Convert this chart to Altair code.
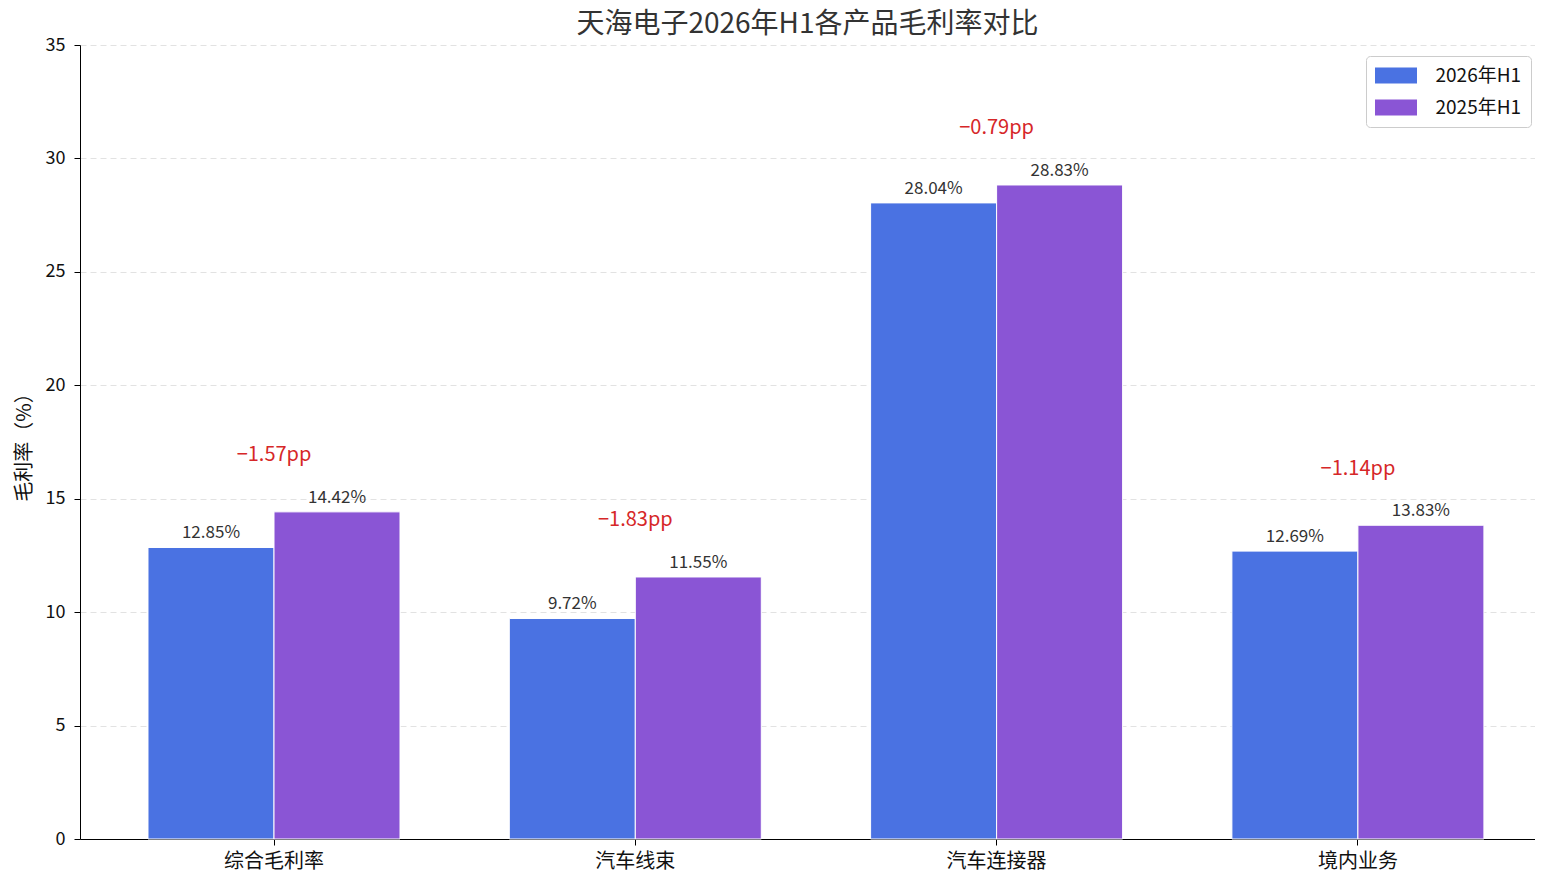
import altair as alt
import pandas as pd

categories = ["综合毛利率", "汽车线束", "汽车连接器", "境内业务"]
series = ["2026年H1", "2025年H1"]
v2026 = [12.85, 9.72, 28.04, 12.69]
v2025 = [14.42, 11.55, 28.83, 13.83]
colors = ["#4A72E2", "#8A55D5"]

FONT = "Noto Sans CJK SC"

rows = []
for c, a, b in zip(categories, v2026, v2025):
    rows.append({"cat": c, "series": series[0], "value": a})
    rows.append({"cat": c, "series": series[1], "value": b})
df = pd.DataFrame(rows)

diff_df = pd.DataFrame({"cat": categories, "a": v2026, "b": v2025})

xscale = alt.Scale(domain=categories, paddingInner=0.3025, paddingOuter=0.1648, align=0.571)
xenc = alt.X("cat:N", scale=xscale, sort=categories, title=None,
             axis=alt.Axis(labelAngle=0, labelFontSize=20, labelColor="#111",
                           tickSize=6, tickColor="#000", domainColor="#000",
                           labelPadding=6, grid=False))
yscale = alt.Scale(domain=[0, 35], nice=False)
yenc = alt.Y("value:Q", scale=yscale,
             axis=alt.Axis(title="毛利率（%）", values=[0, 5, 10, 15, 20, 25, 30, 35],
                           labelFontSize=18, labelColor="#111", titleFontSize=20,
                           titleFontWeight="normal", titleColor="#111", titlePadding=11,
                           tickSize=6, tickColor="#000", domainColor="#000", labelPadding=9,
                           grid=True, gridColor="#e2e2e2", gridDash=[6, 4], gridWidth=1))
xoff = alt.XOffset("series:N", sort=series,
                   scale=alt.Scale(domain=series, paddingInner=0, paddingOuter=0))

symbol_path = "M-2,-0.76H2V0.76H-2Z"

bars = alt.Chart(df).mark_bar(stroke="white", strokeWidth=1).encode(
    x=xenc,
    xOffset=xoff,
    y=yenc,
    color=alt.Color("series:N", sort=series,
                    scale=alt.Scale(domain=series, range=colors),
                    legend=alt.Legend(title=None, orient="none", legendX=1286, legendY=11,
                                      labelFontSize=19, labelColor="#111",
                                      symbolType=symbol_path, symbolSize=441,
                                      symbolOffset=10.5,
                                      symbolStrokeWidth=0, labelOffset=29,
                                      rowPadding=11, padding=9,
                                      strokeColor="#cccccc", fillColor="white",
                                      cornerRadius=4)),
)

labels = alt.Chart(df).mark_text(baseline="bottom", dy=-5, fontSize=17, color="#333",
                                  font=FONT).encode(
    x=alt.X("cat:N", scale=xscale, sort=categories),
    xOffset=xoff,
    y=alt.Y("value:Q", scale=yscale),
    text=alt.Text("label:N"),
).transform_calculate(label="format(datum.value, '.2f') + '%'")

ann = alt.Chart(diff_df).transform_calculate(
    top="max(datum.a, datum.b) + 2.5",
    txt="format(datum.a - datum.b, '.2f') + 'pp'",
).mark_text(baseline="middle", fontSize=20, color="#D62728", font=FONT).encode(
    x=alt.X("cat:N", scale=xscale, sort=categories),
    y=alt.Y("top:Q", scale=yscale),
    text="txt:N",
)

chart = alt.layer(bars, labels, ann).properties(
    width=1455,
    height=794,
    title=alt.TitleParams("天海电子2026年H1各产品毛利率对比", fontSize=28, font=FONT,
                          fontWeight="normal", color="#333", anchor="middle", offset=0, dy=3),
    autosize=alt.AutoSizeParams(type="none"),
    padding={"left": 72, "top": 37, "right": 0, "bottom": 34},
).configure(font=FONT).configure_view(stroke=None).configure_axis(
    labelFont=FONT, titleFont=FONT
).configure_legend(labelFont=FONT)

chart.save("out.html", embed_options={"renderer": "svg", "actions": False})
